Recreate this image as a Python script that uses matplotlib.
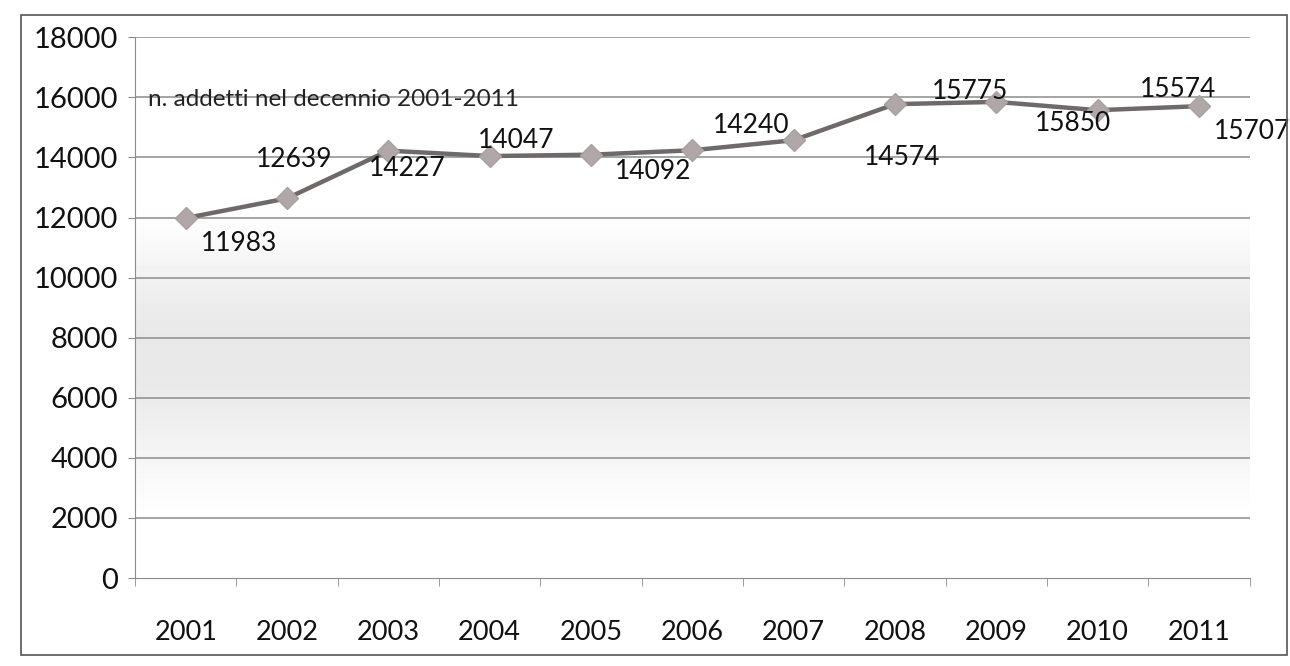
import numpy as np
import matplotlib
matplotlib.use("Agg")
from matplotlib import pyplot as plt
from matplotlib.patches import Rectangle

# dati
anni = ["2001", "2002", "2003", "2004", "2005", "2006",
        "2007", "2008", "2009", "2010", "2011"]
addetti = [11983, 12639, 14227, 14047, 14092, 14240,
           14574, 15775, 15850, 15574, 15707]
titolo = "n. addetti nel decennio 2001-2011"

# spostamento delle etichette (pixel, come nel grafico originale)
label_dx = [53, 7, 19, 26, 62, 59, 108, 75, 77, 80, 53]
label_dy = [-25, 39, -18, 16, -17, 25, -17, 13, -22, 21, -25]

plt.rcParams['font.family'] = ['Lato', 'DejaVu Sans']

fig = plt.figure(figsize=(12.9, 6.66), dpi=100)
ax = fig.add_axes([0.1047, 0.132, 0.864, 0.812])

x = np.arange(len(anni))
ax.set_xlim(-0.5, len(anni) - 0.5)
ax.set_ylim(0, 18000)

# sfondo sfumato grigio (dall'alto verso il basso)
prof = np.array([0.0, 0.0, 0.0, 0.0, 0.0, 0.0, 0.15, 0.45, 0.75, 0.95,
                 1.0, 0.95, 0.8, 0.55, 0.3, 0.1, 0.0, 0.0])
grad = 1 - 0.09 * prof
ax.imshow(grad.reshape(-1, 1), cmap='gray', vmin=0, vmax=1, aspect='auto',
          extent=[-0.5, len(anni) - 0.5, 0, 18000], interpolation='bicubic', zorder=0)

# griglia
for yv in range(2000, 18001, 2000):
    ax.axhline(yv, color='#8c8c8c', lw=1.1, zorder=1)

ax.plot(x, addetti, color='#6f6a6a', lw=3.2, zorder=3)
ax.plot(x, addetti, ls='none', marker='D', ms=11, color='#b0a8a8',
        mec='#a8a0a0', zorder=4)

for i, v in enumerate(addetti):
    ax.annotate(str(v), (x[i], v), xytext=(label_dx[i] * 0.72, label_dy[i] * 0.72),
                textcoords='offset points', ha='center', va='center',
                fontsize=19, color='#111111', annotation_clip=False, zorder=5)

ax.text(0.012, 0.885, titolo, transform=ax.transAxes, fontsize=17.5,
        color='#222222', va='center', ha='left', zorder=5)

for s in ['top', 'right']:
    ax.spines[s].set_visible(False)
ax.spines['left'].set_color('#8c8c8c')
ax.spines['bottom'].set_color('#8c8c8c')

ax.set_yticks(range(0, 18001, 2000))
ax.tick_params(axis='y', length=5, color='#8c8c8c', pad=7, labelsize=21,
               labelcolor='#111111')
ax.set_xticks(x)
ax.set_xticklabels(anni)
ax.set_xticks(np.arange(-0.5, len(anni)), minor=True)
ax.tick_params(axis='x', which='major', length=0, pad=30, labelsize=19.5,
               labelcolor='#111111')
ax.tick_params(axis='x', which='minor', length=6, color='#8c8c8c')

# cornice esterna
fig.patches.append(Rectangle((0.016, 0.016), 0.982, 0.962, transform=fig.transFigure,
                             fill=False, ec='#555555', lw=1.2))

plt.savefig("out.png", dpi=100)
